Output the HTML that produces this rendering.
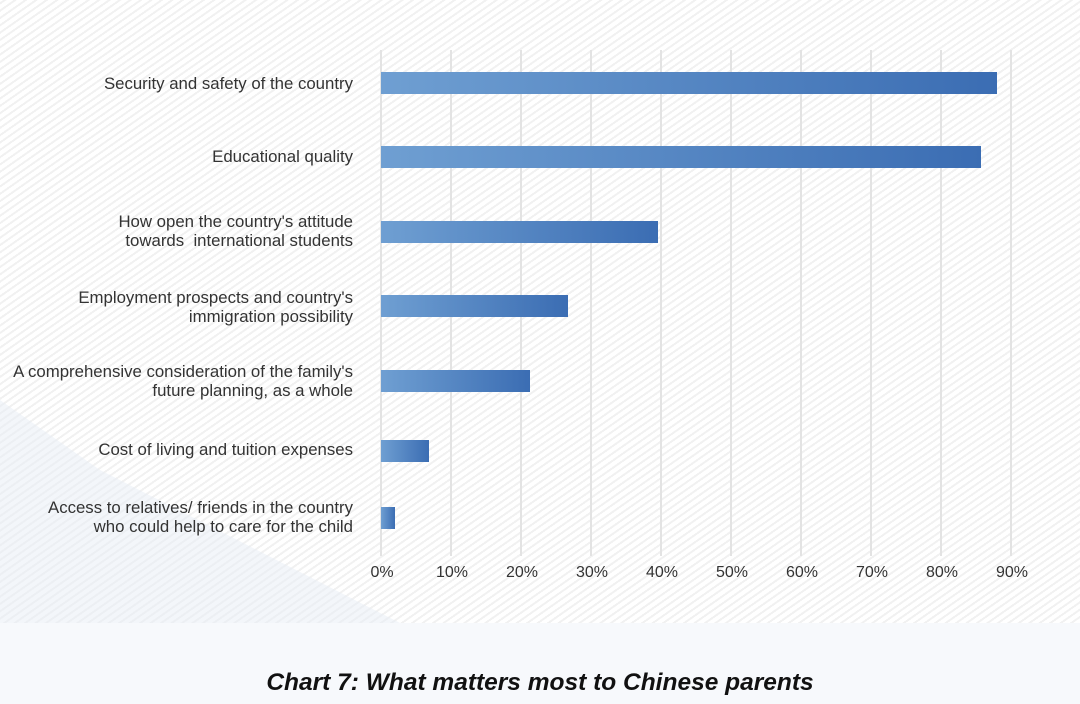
<!DOCTYPE html>
<html><head><style>
html,body{margin:0;width:1080px;height:704px;overflow:hidden}
body{background:#f6f8fb;font-family:"Liberation Sans",Arial,sans-serif;position:relative}
.bg{position:absolute;left:0;top:0;width:1080px;height:623px;background:repeating-linear-gradient(-35deg,#ffffff 0 4px,#f1f1f1 4px 6px)}
.lbl{position:absolute;right:727px;text-align:right;font-size:16.8px;color:#333;line-height:19px;white-space:nowrap}
.grid{position:absolute;top:50px;height:506px;width:2px;background:#e3e3e3}
.bar{position:absolute;left:381px;height:22px;background:linear-gradient(90deg,#6f9fd2,#3b6db3)}
.tick{position:absolute;top:564px;font-size:16px;color:#333;width:60px;text-align:center;line-height:18px}
.title{position:absolute;top:669px;left:0;width:1080px;text-align:center;font-size:24.5px;line-height:28px;font-weight:bold;font-style:italic;color:#111}
</style></head><body>
<div class="bg"></div>
<svg style="position:absolute;left:0;top:0" width="1080" height="704"><polygon points="0,400 100,470 400,623 0,623" fill="#e8eef6" opacity="0.5"/><polygon points="0,623 1080,623 1080,704 0,704" fill="#f7f9fc"/></svg>
<div class="grid" style="left:380px"></div><div class="grid" style="left:450px"></div><div class="grid" style="left:520px"></div><div class="grid" style="left:590px"></div><div class="grid" style="left:660px"></div><div class="grid" style="left:730px"></div><div class="grid" style="left:800px"></div><div class="grid" style="left:870px"></div><div class="grid" style="left:940px"></div><div class="grid" style="left:1010px"></div>
<div class="bar" style="top:72px;width:616px"></div>
<div class="bar" style="top:146px;width:600px"></div>
<div class="bar" style="top:221px;width:277px"></div>
<div class="bar" style="top:295px;width:187px"></div>
<div class="bar" style="top:370px;width:149px"></div>
<div class="bar" style="top:440px;width:48px"></div>
<div class="bar" style="top:507px;width:14px"></div>
<div class="lbl" style="top:74px">Security and safety of the country</div>
<div class="lbl" style="top:147px">Educational quality</div>
<div class="lbl" style="top:212px">How open the country's attitude<br>towards&nbsp; international students</div>
<div class="lbl" style="top:288px">Employment prospects and country's<br>immigration possibility</div>
<div class="lbl" style="top:362px">A comprehensive consideration of the family's<br>future planning, as a whole</div>
<div class="lbl" style="top:440px">Cost of living and tuition expenses</div>
<div class="lbl" style="top:498px">Access to relatives/ friends in the country<br>who could help to care for the child</div>
<div class="tick" style="left:352px">0%</div><div class="tick" style="left:422px">10%</div><div class="tick" style="left:492px">20%</div><div class="tick" style="left:562px">30%</div><div class="tick" style="left:632px">40%</div><div class="tick" style="left:702px">50%</div><div class="tick" style="left:772px">60%</div><div class="tick" style="left:842px">70%</div><div class="tick" style="left:912px">80%</div><div class="tick" style="left:982px">90%</div>
<div class="title">Chart 7: What matters most to Chinese parents</div>
</body></html>
